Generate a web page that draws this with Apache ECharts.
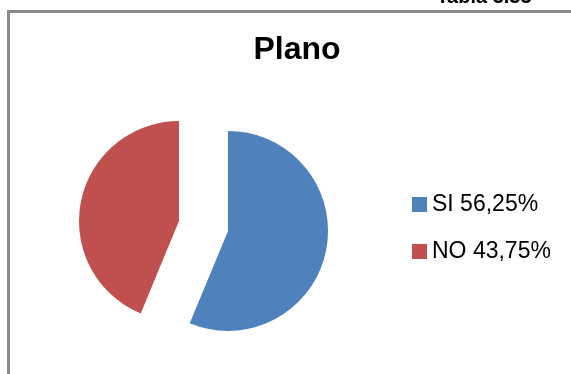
<!DOCTYPE html>
<html>
<head>
<meta charset="utf-8">
<script src="https://cdn.jsdelivr.net/npm/echarts@6/dist/echarts.min.js"></script>
<style>
html,body{margin:0;padding:0;background:#fff;}
#chart{width:571px;height:374px;}
</style>
</head>
<body>
<div id="chart"></div>
<script>
var chartTitle = 'Plano';
var tableLabel = 'Tabla 3.33';
var categories = ['SI 56,25%', 'NO 43,75%'];
var values = [56.25, 43.75];
var colors = ['#4F81BD', '#C0504D'];

var chart = echarts.init(document.getElementById('chart'), null, {renderer: 'canvas'});
var data = categories.map(function (c, i) {
  return {name: c, value: values[i], selected: true, itemStyle: {color: colors[i]}};
});
chart.setOption({
  animation: false,
  backgroundColor: '#ffffff',
  title: [
    {
      text: chartTitle, left: 297, top: 34, textAlign: 'center', padding: 0,
      textStyle: {fontFamily: 'Liberation Sans', fontWeight: 'bold', fontSize: 32, color: '#000'}
    }
  ],
  legend: {
    orient: 'vertical', left: 412, top: 193, padding: 0,
    itemWidth: 15, itemHeight: 15, itemGap: 24, icon: 'rect',
    selectedMode: false,
    textStyle: {fontFamily: 'Liberation Sans', fontSize: 23, color: '#000'},
    data: categories
  },
  graphic: [
    {type: 'line', silent: true, shape: {x1: 8.5, y1: 11.5, x2: 571, y2: 11.5}, style: {stroke: '#8a8a8a', lineWidth: 3}},
    {type: 'line', silent: true, shape: {x1: 8.5, y1: 10, x2: 8.5, y2: 374}, style: {stroke: '#8a8a8a', lineWidth: 3}},
    {type: 'text', silent: true, x: 484, y: -3, style: {text: tableLabel, textAlign: 'center', textVerticalAlign: 'middle', font: 'bold 20px "Liberation Sans"', fill: '#000'}}
  ],
  series: [{
    type: 'pie',
    center: [203.5, 226],
    radius: [0, 100],
    startAngle: 90,
    clockwise: true,
    selectedMode: 'multiple',
    selectedOffset: 25,
    label: {show: false},
    labelLine: {show: false},
    emphasis: {disabled: true},
    itemStyle: {borderWidth: 0},
    data: data
  }]
});
</script>
</body>
</html>
